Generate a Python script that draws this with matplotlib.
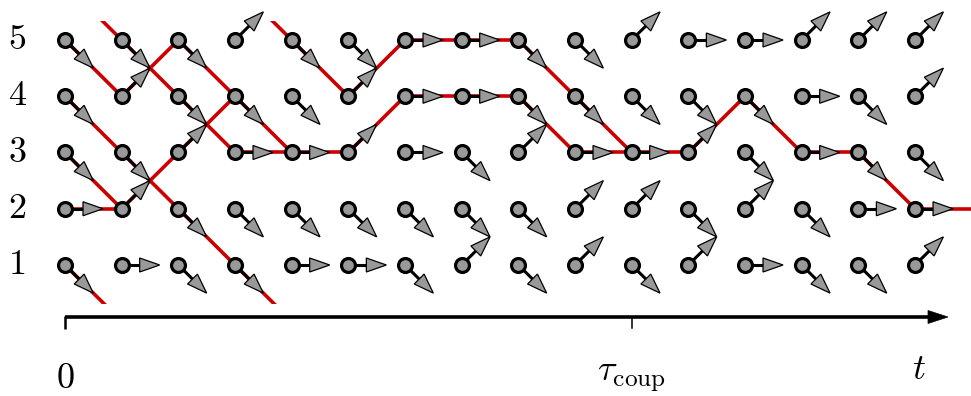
import matplotlib
matplotlib.use("Agg")
import matplotlib.pyplot as plt
from matplotlib.patches import Polygon, Rectangle
import numpy as np

plt.rcParams["mathtext.fontset"] = "cm"

# move of every node: U = up one state, R = stay, D = down one state (states wrap 1 <-> 5)
rows = [5, 4, 3, 2, 1]
moves = {
    5: "DDDUDDRRDDURRUUU",
    4: "DUDDDURRDDDDDRDU",
    3: "DDURRURDURRUDRDD",
    2: "RUDDDDDDDUUDUDRR",
    1: "DRDDRRDUDUDURDDU",
}
row_labels = ["1", "2", "3", "4", "5"]
time_labels = ["$0$", r"$\tau_{\rm coup}$", "$t$"]

n_cols = len(moves[5])
step = {"U": 1, "R": 0, "D": -1}

GRAY = "#999999"
RED = "#cc0000"

fig = plt.figure(figsize=(9.71, 3.96), dpi=100)
ax = fig.add_axes([0, 0, 1, 1])
x0, x1 = -65 / 56.67, (971 - 65) / 56.67
y0, y1 = 5 - 356 / 56.25, 5 + 40 / 56.25
ax.set_xlim(x0, x1)
ax.set_ylim(y0, y1)
ax.axis("off")
sx = 971 / (x1 - x0)   # px per column
sy = 396 / (y1 - y0)   # px per row


def head(tipx, tipy, ux, uy, length, half):
    # triangle head, sizes in pixels
    bx, by = tipx - ux * length / sx, tipy - uy * length / sy
    nx, ny = -uy, ux
    pts = [(tipx, tipy),
           (bx + nx * half / sx, by + ny * half / sy),
           (bx - nx * half / sx, by - ny * half / sy)]
    return pts, (bx, by)


# red trajectories started from every state at time 0
clip = Rectangle((x0, 0.31), x1 - x0, 5.34 - 0.31, transform=ax.transData)
segs = set()
paths = []
for r0 in rows:
    r = r0
    traj = [r]
    for c in range(n_cols):
        nr = r + step[moves[r][c]]
        if nr == 0:
            segs.add(((c, 1), (c + 1, 0)))
            segs.add(((c, 6), (c + 1, 5)))
            nr = 5
        elif nr == 6:
            segs.add(((c, 5), (c + 1, 6)))
            segs.add(((c, 0), (c + 1, 1)))
            nr = 1
        else:
            segs.add(((c, r), (c + 1, nr)))
        r = nr
        traj.append(r)
    paths.append(traj)
for (a, b) in segs:
    ln, = ax.plot([a[0], b[0]], [a[1], b[1]], color=RED, lw=2.6,
                  solid_capstyle="butt", zorder=1)
    ln.set_clip_path(clip)

# coupling time: first column where all trajectories agree
paths = np.array(paths)
t_coup = next(c for c in range(paths.shape[1]) if len(set(paths[:, c])) == 1)

# arrows and nodes
for r in rows:
    for c in range(n_cols):
        m = moves[r][c]
        if m == "R":
            tx, ty = c + 38 / sx, r
        else:
            tx, ty = c + 0.5, r + 0.5 * step[m]
        dxp, dyp = (tx - c) * sx, (ty - r) * sy
        L = np.hypot(dxp, dyp)
        pts, (bx, by) = head(tx, ty, dxp / L, dyp / L, 20, 7)
        ax.plot([c, bx], [r, by], color="black", lw=2.2,
                solid_capstyle="butt", zorder=2)
        ax.add_patch(Polygon(pts, closed=True, facecolor=GRAY,
                             edgecolor="black", lw=0.9, zorder=3))
        ax.plot(c, r, "o", ms=10, mfc=GRAY, mec="black", mew=2.3, zorder=4)

# time axis
y_ax = 5 - 277 / 56.25
tip = (948 - 65) / 56.67
pts, (bx, by) = head(tip, y_ax, 1, 0, 20, 6.5)
ax.plot([0, bx], [y_ax, y_ax], color="black", lw=2.6, solid_capstyle="butt")
ax.add_patch(Polygon(pts, closed=True, facecolor="black", edgecolor="black", lw=0.5))
ax.plot([0, 0], [y_ax + 1.5 / sy, y_ax - 12 / sy], color="black", lw=1.8,
        solid_capstyle="butt")
ax.plot([t_coup, t_coup], [y_ax, y_ax - 11 / sy], color="black", lw=1.1)

for r, lab in zip(range(1, 6), row_labels):
    ax.text(-48 / sx, r - 9 / sy, "$" + lab + "$", fontsize=26,
            ha="center", va="baseline")

ax.text(0, 5 - 348 / 56.25, time_labels[0], fontsize=26, ha="center", va="baseline")
ax.text(t_coup, 5 - 341 / 56.25, time_labels[1], fontsize=26, ha="center", va="baseline")
ax.text((919 - 65) / 56.67, 5 - 339 / 56.25, time_labels[2], fontsize=26,
        ha="center", va="baseline")

fig.savefig("out.png", dpi=100)
